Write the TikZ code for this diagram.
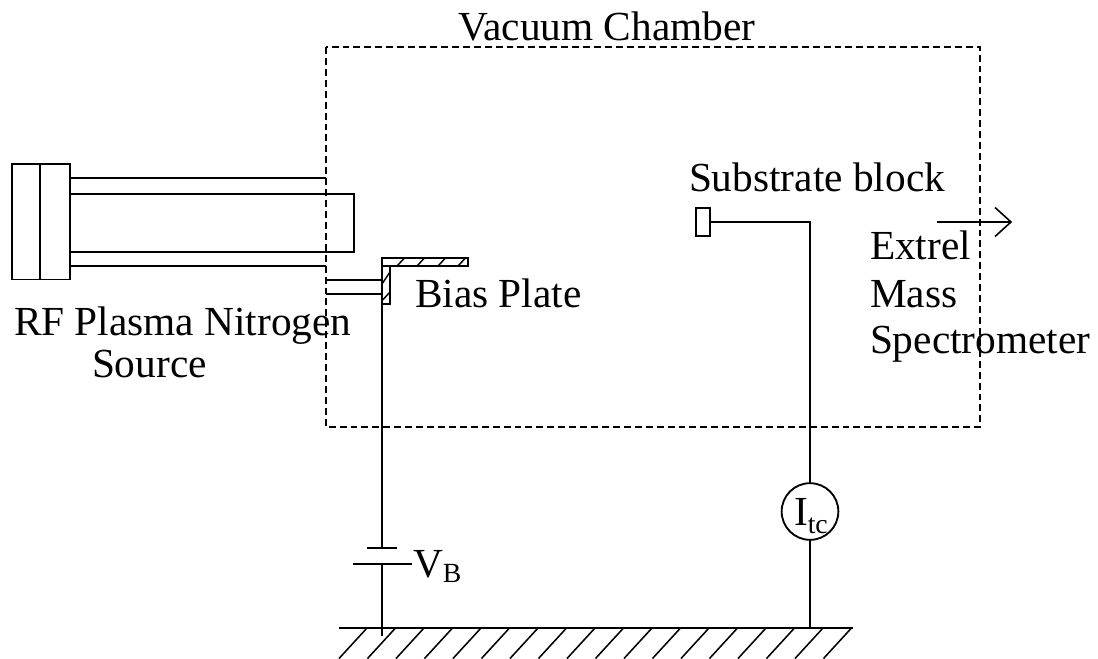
\documentclass[tikz,border=0pt]{standalone}
\usepackage{fontspec}
\setmainfont{Liberation Serif}
\newcommand{\subtxt}[2]{\raisebox{#1}{\fontsize{20.8}{24}\selectfont #2}}
\tikzset{
  wire/.style={draw=black,line width=1.4pt},
  dashline/.style={draw=black,line width=1.3pt,dash pattern=on 5.2pt off 3pt},
  label/.style={inner sep=0pt,outer sep=0pt,anchor=base west,font=\fontsize{31}{36}\selectfont},
  box/.style={draw=black,line width=1.4pt,inner sep=0pt,outer sep=0pt,minimum width=0pt}
}
\begin{document}
\begin{tikzpicture}[x=0.75pt,y=-0.75pt]
\useasboundingbox (0,0) rectangle (1098,659);
% chamber
\draw[dashline] (326,47) rectangle (980,427);
% source
\draw[wire] (12,164) rectangle (70,279.5);
\draw[wire] (40,164) -- (40,279.5);
\coordinate (fa) at (70,178);
\coordinate (fb) at (70,194);
\coordinate (fc) at (70,252);
\coordinate (fd) at (70,266);
\coordinate (wa) at (326,178);
\coordinate (wd) at (326,266);
\coordinate (ta) at (354,194);
\coordinate (tb) at (354,252);
\draw[wire] (fa) -- (wa);
\draw[wire] (fd) -- (wd);
\draw[wire] (fb) -- (ta) -- (tb) -- (fc);
% bias tube
\coordinate (ba) at (326,280);
\coordinate (bb) at (326,294);
\coordinate (bc) at (382,280);
\coordinate (bd) at (382,294);
\draw[wire] (ba) -- (bc);
\draw[wire] (bb) -- (bd);
% bias plate
\draw[wire] (382,258) rectangle (468,266);
\draw[wire] (382,266) rectangle (390,304);
\foreach \x in {397,417,438,458} \draw[wire,line width=1.1pt] (\x,266) -- (\x+7,258.5);
\draw[wire,line width=1.1pt] (382.7,283) -- (390,272);
\draw[wire,line width=1.1pt] (382.7,300) -- (390,292);
% battery
\coordinate (pa) at (382,304);
\coordinate (pb) at (382,548);
\coordinate (pc) at (382,564);
\coordinate (pd) at (382,636);
\draw[wire] (pa) -- (pb);
\draw[wire] (pc) -- (pd);
\draw[wire] (367,548) -- (397,548);
\draw[wire] (353,564) -- (412,564);
% ground
\draw[wire] (339,628) -- (853,628);
\foreach \i in {0,...,17} \draw[wire,line width=1.15pt] ({339+28.5*\i},658.5) -- ({367+28.5*\i},628);
% substrate
\node[box,minimum width=10.5pt,minimum height=21pt] (sb) at (703,222) {};
\node[draw=black,line width=1.4pt,circle,inner sep=0pt,minimum size=42.5pt,outer sep=0pt] (itc) at (810,511.5) {};
\coordinate (corner) at (810,222);
\coordinate (gnd) at (810,628);
\draw[wire] (sb.east) -- (corner) -- (itc.north);
\draw[wire] (itc.south) -- (gnd);
% arrow
\coordinate (as) at (937,222);
\coordinate (ae) at (1011,222);
\draw[wire,line width=1.2pt] (as) -- (ae);
\draw[wire,line width=1.2pt] (995,207.5) -- (ae) -- (995,236.5);
% labels
\node[label] (t1) at (458,41) {Vacuum Chamber};
\node[label] (t2) at (689,192) {Substrate block};
\node[label] (t3) at (870,259) {Extrel};
\node[label] (t4) at (870,307) {Mass};
\node[label] (t5) at (870,353) {Spectrometer};
\node[label] (t6) at (415,307) {Bias Plate};
\node[label] (t7) at (14,335) {RF Plasma Nitrogen};
\node[label] (t8) at (92,377) {Source};
\node[label] (t9) at (413,577) {V\subtxt{-3.75pt}{B}};
\node[label] (t10) at (794,525) {I\subtxt{-6pt}{tc}};
\end{tikzpicture}
\end{document}
